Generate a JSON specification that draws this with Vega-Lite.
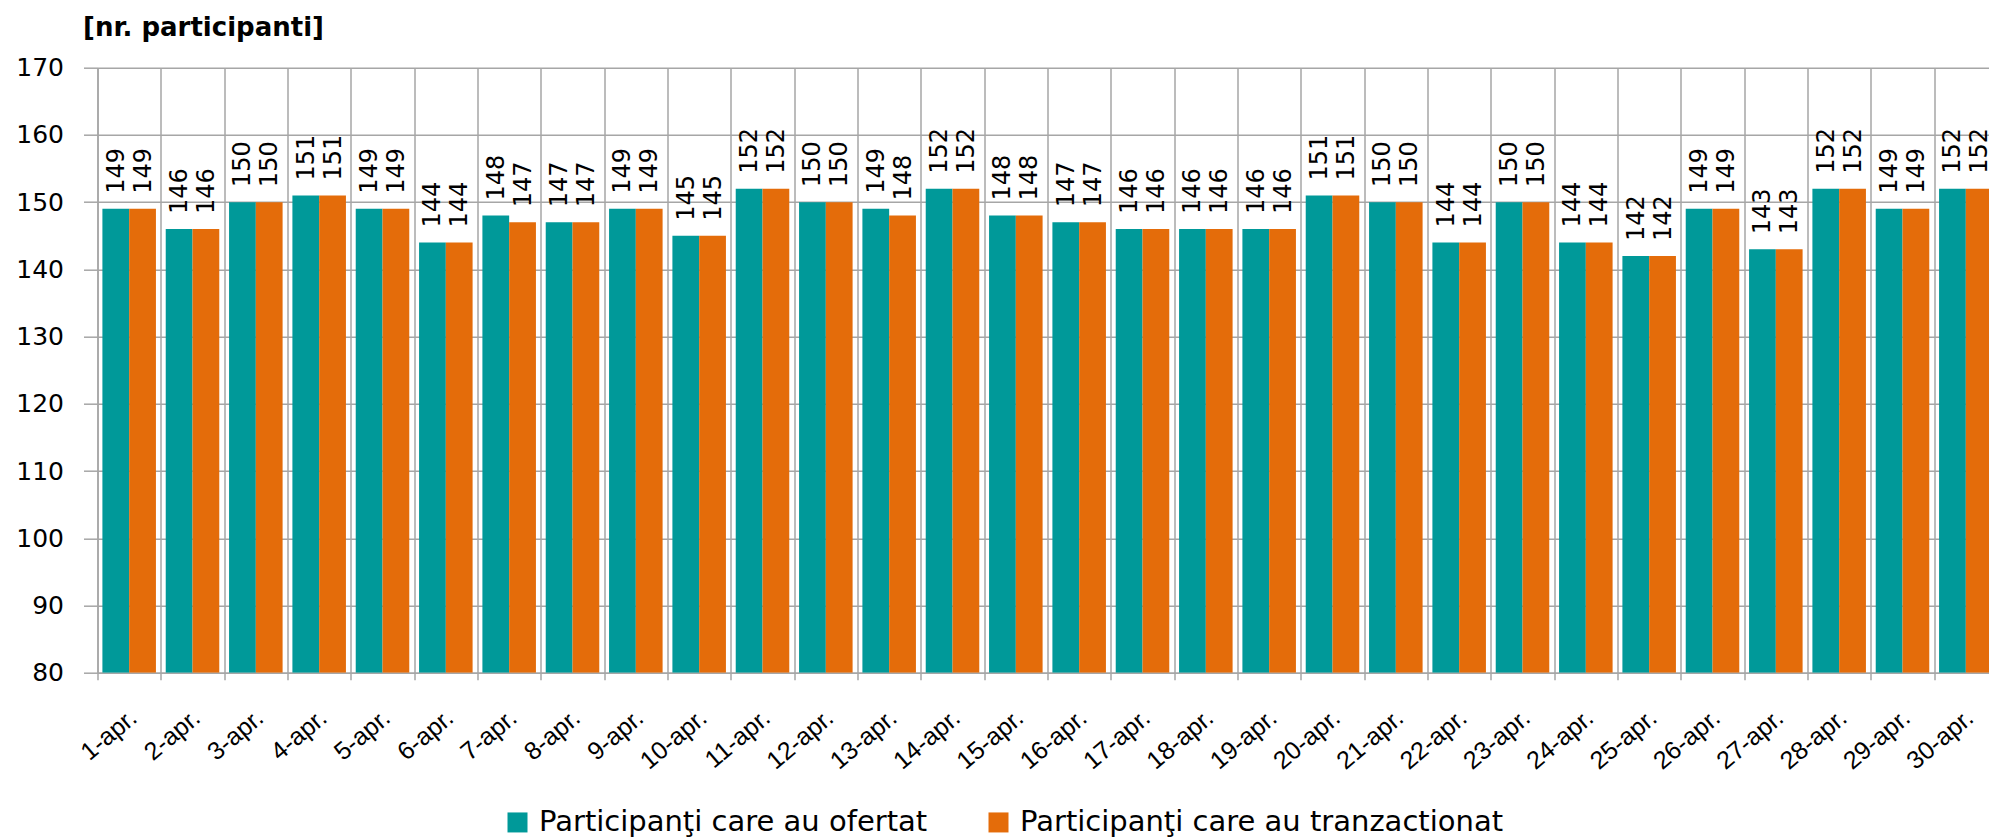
{
  "$schema": "https://vega.github.io/schema/vega-lite/v6.json",
  "usermeta": {"embedOptions": {"actions": false}},
  "autosize": {"type": "none"},
  "padding": {"left": 97.5, "top": 67.7, "right": 0, "bottom": 164.3},
  "width": 1891.5,
  "height": 605,
  "background": "white",
  "config": {"view": {"stroke": null}, "font": "DejaVu Sans"},
  "title": {
    "text": "[nr. participanti]",
    "anchor": "start",
    "frame": "group",
    "font": "DejaVu Sans",
    "fontSize": 26,
    "fontWeight": "bold",
    "color": "black",
    "dx": -14.5,
    "baseline": "alphabetic",
    "offset": -6
  },
  "data": {
    "values": [
      {"day": "1-apr.", "series": "Participanţi care au ofertat", "value": 149},
      {"day": "1-apr.", "series": "Participanţi care au tranzactionat", "value": 149},
      {"day": "2-apr.", "series": "Participanţi care au ofertat", "value": 146},
      {"day": "2-apr.", "series": "Participanţi care au tranzactionat", "value": 146},
      {"day": "3-apr.", "series": "Participanţi care au ofertat", "value": 150},
      {"day": "3-apr.", "series": "Participanţi care au tranzactionat", "value": 150},
      {"day": "4-apr.", "series": "Participanţi care au ofertat", "value": 151},
      {"day": "4-apr.", "series": "Participanţi care au tranzactionat", "value": 151},
      {"day": "5-apr.", "series": "Participanţi care au ofertat", "value": 149},
      {"day": "5-apr.", "series": "Participanţi care au tranzactionat", "value": 149},
      {"day": "6-apr.", "series": "Participanţi care au ofertat", "value": 144},
      {"day": "6-apr.", "series": "Participanţi care au tranzactionat", "value": 144},
      {"day": "7-apr.", "series": "Participanţi care au ofertat", "value": 148},
      {"day": "7-apr.", "series": "Participanţi care au tranzactionat", "value": 147},
      {"day": "8-apr.", "series": "Participanţi care au ofertat", "value": 147},
      {"day": "8-apr.", "series": "Participanţi care au tranzactionat", "value": 147},
      {"day": "9-apr.", "series": "Participanţi care au ofertat", "value": 149},
      {"day": "9-apr.", "series": "Participanţi care au tranzactionat", "value": 149},
      {"day": "10-apr.", "series": "Participanţi care au ofertat", "value": 145},
      {"day": "10-apr.", "series": "Participanţi care au tranzactionat", "value": 145},
      {"day": "11-apr.", "series": "Participanţi care au ofertat", "value": 152},
      {"day": "11-apr.", "series": "Participanţi care au tranzactionat", "value": 152},
      {"day": "12-apr.", "series": "Participanţi care au ofertat", "value": 150},
      {"day": "12-apr.", "series": "Participanţi care au tranzactionat", "value": 150},
      {"day": "13-apr.", "series": "Participanţi care au ofertat", "value": 149},
      {"day": "13-apr.", "series": "Participanţi care au tranzactionat", "value": 148},
      {"day": "14-apr.", "series": "Participanţi care au ofertat", "value": 152},
      {"day": "14-apr.", "series": "Participanţi care au tranzactionat", "value": 152},
      {"day": "15-apr.", "series": "Participanţi care au ofertat", "value": 148},
      {"day": "15-apr.", "series": "Participanţi care au tranzactionat", "value": 148},
      {"day": "16-apr.", "series": "Participanţi care au ofertat", "value": 147},
      {"day": "16-apr.", "series": "Participanţi care au tranzactionat", "value": 147},
      {"day": "17-apr.", "series": "Participanţi care au ofertat", "value": 146},
      {"day": "17-apr.", "series": "Participanţi care au tranzactionat", "value": 146},
      {"day": "18-apr.", "series": "Participanţi care au ofertat", "value": 146},
      {"day": "18-apr.", "series": "Participanţi care au tranzactionat", "value": 146},
      {"day": "19-apr.", "series": "Participanţi care au ofertat", "value": 146},
      {"day": "19-apr.", "series": "Participanţi care au tranzactionat", "value": 146},
      {"day": "20-apr.", "series": "Participanţi care au ofertat", "value": 151},
      {"day": "20-apr.", "series": "Participanţi care au tranzactionat", "value": 151},
      {"day": "21-apr.", "series": "Participanţi care au ofertat", "value": 150},
      {"day": "21-apr.", "series": "Participanţi care au tranzactionat", "value": 150},
      {"day": "22-apr.", "series": "Participanţi care au ofertat", "value": 144},
      {"day": "22-apr.", "series": "Participanţi care au tranzactionat", "value": 144},
      {"day": "23-apr.", "series": "Participanţi care au ofertat", "value": 150},
      {"day": "23-apr.", "series": "Participanţi care au tranzactionat", "value": 150},
      {"day": "24-apr.", "series": "Participanţi care au ofertat", "value": 144},
      {"day": "24-apr.", "series": "Participanţi care au tranzactionat", "value": 144},
      {"day": "25-apr.", "series": "Participanţi care au ofertat", "value": 142},
      {"day": "25-apr.", "series": "Participanţi care au tranzactionat", "value": 142},
      {"day": "26-apr.", "series": "Participanţi care au ofertat", "value": 149},
      {"day": "26-apr.", "series": "Participanţi care au tranzactionat", "value": 149},
      {"day": "27-apr.", "series": "Participanţi care au ofertat", "value": 143},
      {"day": "27-apr.", "series": "Participanţi care au tranzactionat", "value": 143},
      {"day": "28-apr.", "series": "Participanţi care au ofertat", "value": 152},
      {"day": "28-apr.", "series": "Participanţi care au tranzactionat", "value": 152},
      {"day": "29-apr.", "series": "Participanţi care au ofertat", "value": 149},
      {"day": "29-apr.", "series": "Participanţi care au tranzactionat", "value": 149},
      {"day": "30-apr.", "series": "Participanţi care au ofertat", "value": 152},
      {"day": "30-apr.", "series": "Participanţi care au tranzactionat", "value": 152}
    ]
  },
  "encoding": {
    "x": {
      "field": "day",
      "type": "nominal",
      "sort": null,
      "scale": {"range": [0, 1900], "paddingInner": 0, "paddingOuter": 0},
      "axis": {
        "title": null,
        "tickBand": "extent",
        "grid": true,
        "gridColor": "#a6a6a6",
        "gridWidth": 1.5,
        "domainColor": "#a6a6a6",
        "domainWidth": 1.5,
        "tickColor": "#a6a6a6",
        "tickWidth": 1.5,
        "tickSize": 7,
        "labelAngle": -40,
        "labelAlign": "right",
        "labelBaseline": "top",
        "labelPadding": 25,
        "labelOffset": -4,
        "labelFont": "Liberation Sans",
        "labelFontSize": 25,
        "labelColor": "black",
        "labelOverlap": false
      }
    },
    "xOffset": {
      "field": "series",
      "type": "nominal",
      "sort": ["Participanţi care au ofertat", "Participanţi care au tranzactionat"],
      "scale": {"paddingInner": 0, "paddingOuter": 0.183}
    },
    "y": {
      "field": "value",
      "type": "quantitative",
      "scale": {"domain": [80, 170], "zero": false, "nice": false},
      "axis": {
        "title": null,
        "values": [80, 90, 100, 110, 120, 130, 140, 150, 160, 170],
        "grid": true,
        "gridColor": "#a6a6a6",
        "gridWidth": 1.5,
        "domainColor": "#a6a6a6",
        "domainWidth": 1.5,
        "tickColor": "#a6a6a6",
        "tickWidth": 1.5,
        "tickSize": 14,
        "labelPadding": 20,
        "labelFont": "DejaVu Sans",
        "labelFontSize": 25,
        "labelColor": "black"
      }
    }
  },
  "layer": [
    {
      "mark": {"type": "bar", "clip": true},
      "encoding": {
        "y2": {"datum": 80},
        "color": {
          "field": "series",
          "type": "nominal",
          "sort": ["Participanţi care au ofertat", "Participanţi care au tranzactionat"],
          "scale": {"range": ["#009999", "#E46C0A"]},
          "legend": {
            "title": null,
            "orient": "none",
            "direction": "horizontal",
            "legendX": 405.5,
            "legendY": 740,
            "symbolType": "square",
            "symbolSize": 400,
            "symbolStrokeWidth": 0,
            "symbolOpacity": 1,
            "labelFont": "DejaVu Sans",
            "labelFontSize": 29,
            "labelColor": "black",
            "labelOffset": 7,
            "labelLimit": 1000,
            "columnPadding": 56
          }
        }
      }
    },
    {
      "mark": {
        "type": "text",
        "angle": 270,
        "align": "left",
        "baseline": "middle",
        "dx": 15,
        "dy": 1,
        "font": "DejaVu Sans",
        "fontSize": 24,
        "color": "black"
      },
      "encoding": {
        "text": {"field": "value", "type": "quantitative"}
      }
    }
  ]
}
